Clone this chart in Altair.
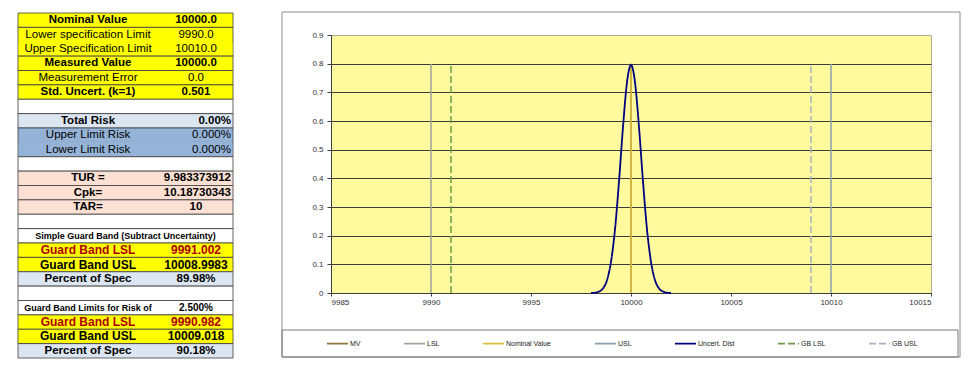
import altair as alt
import pandas as pd
import numpy as np

FONT = "Liberation Sans"

# ---------------- table data ----------------
row_labels = [
    "Nominal Value", "Lower specification Limit", "Upper Specification Limit",
    "Measured Value", "Measurement Error", "Std. Uncert. (k=1)", "",
    "Total Risk", "Upper Limit Risk", "Lower Limit Risk", "",
    "TUR =", "Cpk=", "TAR=", "",
    "Simple Guard Band (Subtract Uncertainty)", "Guard Band LSL", "Guard Band USL",
    "Percent of Spec", "",
    "Guard Band Limits for Risk of", "Guard Band LSL", "Guard Band USL", "Percent of Spec",
]
row_values = [
    "10000.0", "9990.0", "10010.0", "10000.0", "0.0", "0.501", "",
    "0.00%", "0.000%", "0.000%", "",
    "9.983373912", "10.18730343", "10", "",
    "", "9991.002", "10008.9983", "89.98%", "",
    "2.500%", "9990.982", "10009.018", "90.18%",
]
row_kind = [
    "input", "input", "input", "input", "input", "input", "blank",
    "risk_total", "risk", "risk", "blank",
    "ratio", "ratio", "ratio", "blank",
    "note", "input", "input", "pct", "blank",
    "note", "input", "input", "pct",
]

fill_map = {"input": "#ffff00", "blank": "#ffffff", "note": "#ffffff",
            "risk_total": "#dce6f2", "risk": "#95b3d7", "ratio": "#fbe0d3",
            "pct": "#dce6f2"}
normal_rows = {1, 2, 4, 8, 9}
small_rows = {15, 20}
big_rows = {16, 17, 21, 22}
red_rows = {16, 21}
right_rows = {7, 8, 9, 11, 12}
no_top_border_rows = {2, 9}

n = len(row_labels)
tbl = pd.DataFrame({"row": list(range(n)), "label": row_labels,
                    "value": row_values, "kind": row_kind})
tbl["fill"] = tbl["kind"].map(fill_map)
tbl["bold"] = ~tbl["row"].isin(normal_rows)
tbl["title"] = tbl["row"] == 15
tbl["right"] = tbl["row"].isin(right_rows)
tbl["merge"] = tbl["row"].isin(no_top_border_rows)
tbl["lsize"] = [9 if r in small_rows else (12 if r in big_rows else 11.5) for r in range(n)]
tbl["vsize"] = [10 if r == 20 else (12 if r in big_rows else 11.5) for r in range(n)]
tbl["tcolor"] = ["#b00000" if r in red_rows else "#000000" for r in range(n)]

TW, TH = 215, 345
TOFF = -22  # table starts above the chart's plot area

base = alt.Chart(tbl).encode(
    y=alt.Y("row:O", axis=None, scale=alt.Scale(paddingInner=0, paddingOuter=0))
)
rects = base.mark_rect(stroke="#3c3c3c", strokeWidth=0.8, yOffset=TOFF).encode(
    x=alt.value(0), x2=alt.value(TW), fill=alt.Fill("fill:N", scale=None)
)
# cover the line between cells that belong to one block
covers = base.transform_filter("datum.merge").mark_rect(yOffset=TOFF - 1.2).encode(
    x=alt.value(0.6), x2=alt.value(TW - 0.6), fill=alt.Fill("fill:N", scale=None)
)


def text_layer(flt, field, xpos, align, weight, size_field):
    return base.transform_filter(flt).mark_text(
        align=align, baseline="middle", font=FONT, fontWeight=weight, yOffset=TOFF
    ).encode(
        x=alt.value(xpos),
        text=alt.Text(f"{field}:N"),
        size=alt.Size(f"{size_field}:Q", scale=None),
        color=alt.Color("tcolor:N", scale=None),
    )


tbl_layers = [
    rects,
    covers,
    text_layer("datum.bold && !datum.title && datum.label != ''", "label", 70, "center", "bold", "lsize"),
    text_layer("!datum.bold && datum.label != ''", "label", 70, "center", "normal", "lsize"),
    text_layer("datum.title", "label", TW / 2, "center", "bold", "lsize"),
    text_layer("datum.bold && !datum.right && datum.value != ''", "value", 178, "center", "bold", "vsize"),
    text_layer("!datum.bold && !datum.right && datum.value != ''", "value", 178, "center", "normal", "vsize"),
    text_layer("datum.bold && datum.right", "value", TW - 2, "right", "bold", "vsize"),
    text_layer("!datum.bold && datum.right", "value", TW - 2, "right", "normal", "vsize"),
]
table = alt.layer(*tbl_layers).properties(
    width=TW, height=TH, view=alt.ViewBackground(stroke="transparent")
)

# ---------------- chart data ----------------
series_names = ["MV", "LSL", "Nominal Value", "USL", "Uncert. Dist", "GB LSL", "GB USL"]
series_colors = ["#947a3e", "#a3a39c", "#dcbf3c", "#8c9fae", "#000080", "#6f9a48", "#a7b3c2"]
series_dash = [[1, 0], [1, 0], [1, 0], [1, 0], [1, 0], [7, 3], [7, 3]]

limit_names = ["MV", "LSL", "GB LSL", "Nominal Value", "GB USL", "USL"]
limit_x = [10000.0, 9990.0, 9991.002, 10000.0, 10008.9983, 10010.0]
limit_bottom = [0, 0, 0, 0, 0, 0]
limit_top = [0.8, 0.8, 0.8, 0.8, 0.8, 0.8]

curve_x = [9998.0, 9998.2, 9998.4, 9998.6, 9998.8, 9999.0, 9999.2, 9999.4, 9999.6, 9999.8,
           10000.0, 10000.2, 10000.4, 10000.6, 10000.8, 10001.0, 10001.2, 10001.4,
           10001.6, 10001.8, 10002.0]
curve_y = [0.000, 0.001, 0.005, 0.016, 0.045, 0.109, 0.222, 0.389, 0.579, 0.735,
           0.796, 0.735, 0.579, 0.389, 0.222, 0.109, 0.045, 0.016, 0.005, 0.001, 0.000]

x_ticks = [9985, 9990, 9995, 10000, 10005, 10010, 10015]
y_ticks = [0, 0.1, 0.2, 0.3, 0.4, 0.5, 0.6, 0.7, 0.8, 0.9]

limits = pd.DataFrame({"series": limit_names, "x": limit_x, "y0": limit_bottom, "y1": limit_top})
curve = pd.DataFrame({"series": ["Uncert. Dist"] * len(curve_x), "x": curve_x, "y": curve_y})

W, H = 600, 258

legend = alt.Legend(
    orient="none", legendX=-5, legendY=297, direction="horizontal", title=None,
    symbolType="stroke", symbolSize=441, symbolStrokeWidth=1.6,
    labelFontSize=7, labelFont=FONT, labelColor="#222222", labelOffset=1,
    columnPadding=39, padding=0,
)
color_enc = alt.Color("series:N", scale=alt.Scale(domain=series_names, range=series_colors), legend=legend)
dash_enc = alt.StrokeDash("series:N", scale=alt.Scale(domain=series_names, range=series_dash), legend=legend)

x_scale = alt.Scale(domain=[9985, 10015], nice=False, zero=False)
y_scale = alt.Scale(domain=[0, 0.9], nice=False)
x_axis = alt.Axis(values=x_ticks, format="d", title=None, grid=False,
                  labelFont=FONT, labelFontSize=8, labelColor="#333333",
                  domainColor="#404040", tickColor="#404040", tickSize=3,
                  labelPadding=2)
y_axis = alt.Axis(values=y_ticks, format=".1~f", title=None,
                  labelFont=FONT, labelFontSize=8, labelColor="#333333",
                  domainColor="#404040", tickColor="#404040", tickSize=4, labelPadding=4,
                  gridColor={"condition": {"test": "datum.value > 0.85", "value": "transparent"},
                             "value": "#3c3c3c"},
                  gridWidth=1)

one = alt.Data(values=[{"k": 1}])
frame = alt.Chart(one).mark_rect(filled=False, stroke="#8c8c8c", strokeWidth=1).encode(
    x=alt.value(-49), x2=alt.value(W + 29), y=alt.value(-23), y2=alt.value(H + 64)
)
legend_box = alt.Chart(one).mark_rect(filled=False, stroke="#7a7a7a", strokeWidth=1).encode(
    x=alt.value(-49), x2=alt.value(W + 27), y=alt.value(H + 37), y2=alt.value(H + 64)
)

rules = alt.Chart(limits).mark_rule(strokeWidth=1.5).encode(
    x=alt.X("x:Q", scale=x_scale, axis=x_axis),
    y=alt.Y("y0:Q", scale=y_scale, axis=y_axis),
    y2="y1:Q",
    color=color_enc,
    strokeDash=dash_enc,
)
line = alt.Chart(curve).mark_line(strokeWidth=1.8, interpolate="monotone").encode(
    x=alt.X("x:Q", scale=x_scale, axis=x_axis),
    y=alt.Y("y:Q", scale=y_scale, axis=y_axis),
    color=color_enc,
    strokeDash=dash_enc,
)

main = alt.layer(frame, legend_box, rules, line).properties(
    width=W, height=H,
    view=alt.ViewBackground(fill="#fffa9e", stroke="#b0b096", strokeWidth=1),
)

chart = alt.hconcat(table, main, spacing=47).resolve_scale(
    color="independent", strokeDash="independent"
).resolve_legend(
    color="independent", strokeDash="independent"
).properties(
    padding={"left": 9, "top": 3, "right": 5, "bottom": 5},
    background="white",
)

chart.save("out.html", embed_options={"renderer": "svg", "actions": False})
